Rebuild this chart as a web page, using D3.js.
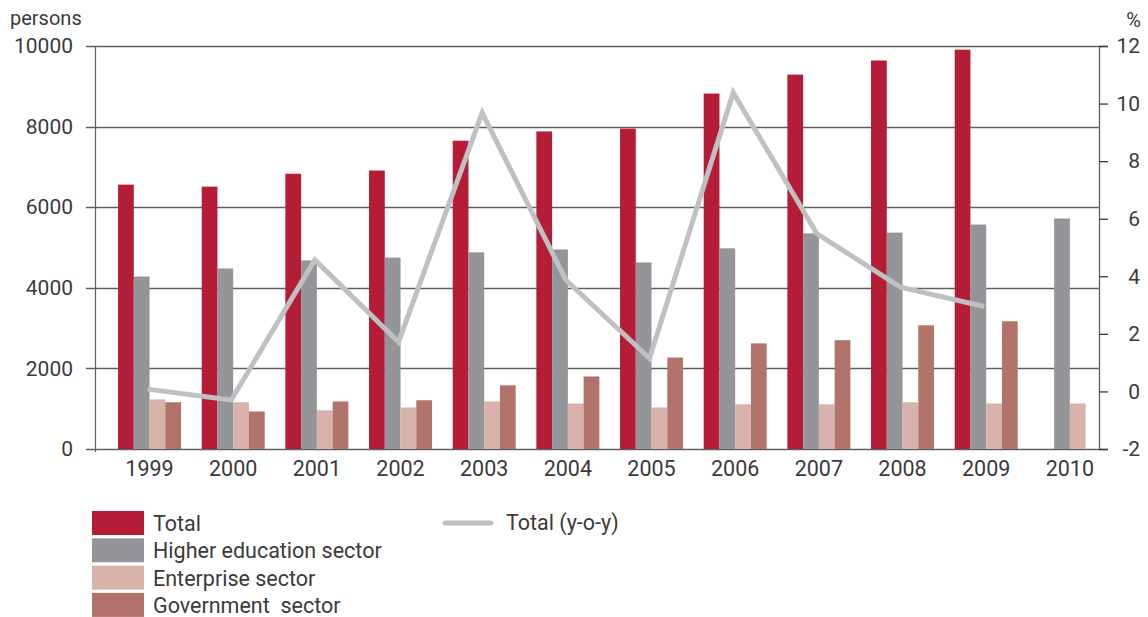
<!DOCTYPE html>
<html>
<head>
<meta charset="utf-8">
<script src="https://cdn.jsdelivr.net/npm/d3@7"></script>
<style>
  body { margin: 0; background: #fff; }
  svg text { font-family: Roboto, "Open Sans", sans-serif; fill: #3a3a3a; }
</style>
</head>
<body>
<svg id="chart"></svg>
<script>
// categories and series
var years = ["1999", "2000", "2001", "2002", "2003", "2004", "2005", "2006", "2007", "2008", "2009", "2010"];
var total = [6560, 6510, 6830, 6910, 7650, 7880, 7950, 8820, 9290, 9640, 9910, null];
var higherEd = [4280, 4480, 4680, 4750, 4880, 4950, 4630, 4980, 5350, 5370, 5570, 5720];
var enterprise = [1230, 1160, 960, 1030, 1180, 1130, 1030, 1110, 1110, 1160, 1130, 1130];
var government = [1160, 930, 1180, 1210, 1580, 1800, 2270, 2620, 2700, 3070, 3170, null];
var totalYoy = [0.08, -0.3, 4.57, 1.72, 9.68, 3.87, 1.15, 10.38, 5.48, 3.62, 2.95, null];

var leftTicks = [0, 2000, 4000, 6000, 8000, 10000];
var rightTicks = [-2, 0, 2, 4, 6, 8, 10, 12];

var seriesNames = ["Total", "Higher education sector", "Enterprise sector", "Government  sector"];
var seriesColors = ["#b51c35", "#939598", "#d8b2aa", "#b2736a"];
var lineName = "Total (y-o-y)";
var lineColor = "#bfc0c2";

var width = 1148, height = 617;
var plotLeft = 95, plotRight = 1099, plotTop = 46, plotBottom = 449;

var svg = d3.select("#chart").attr("width", width).attr("height", height);

//scales
var yLeft = d3.scaleLinear().domain([0, 10000]).range([plotBottom, plotTop]);
var yRight = d3.scaleLinear().domain([-2, 12]).range([plotBottom, plotTop]);
// the clusters sit a little right of the band centres in the original
var x = d3.scaleBand().domain(years).range([plotLeft + 12.7, plotRight + 12.7]);
var groupWidth = 63;
var x1 = d3.scaleBand().domain(d3.range(4)).range([0, groupWidth]);

function center(y) { return x(y) + x.bandwidth() / 2; }
function plain(d) { return String(d); }//no thousands comma, plain hyphen minus

//gridlines
svg.append("g")
    .selectAll("line")
    .data(leftTicks)
    .enter()
    .append("line")
    .attr("x1", plotLeft - 9)
    .attr("x2", plotRight)
    .attr("y1", function (d) { return Math.round(yLeft(d)) + 0.5; })
    .attr("y2", function (d) { return Math.round(yLeft(d)) + 0.5; })
    .attr("stroke", "#5e5f61")
    .attr("stroke-width", 1.3);

//bars
var seriesData = [total, higherEd, enterprise, government];
seriesData.forEach(function (vals, s) {
    svg.append("g")
        .selectAll("rect")
        .data(years.map(function (y, i) { return { year: y, v: vals[i] }; }).filter(function (d) { return d.v != null; }))
        .enter()
        .append("rect")
        .attr("x", function (d) { return center(d.year) - groupWidth / 2 + x1(s); })
        .attr("width", x1.bandwidth())
        .attr("y", function (d) { return yLeft(d.v); })
        .attr("height", function (d) { return yLeft(0) - yLeft(d.v); })
        .attr("fill", seriesColors[s]);
});

//line on the right axis
var lineData = years.map(function (y, i) { return { year: y, v: totalYoy[i] }; }).filter(function (d) { return d.v != null; });
var lineGen = d3.line()
    .x(function (d) { return center(d.year) - 2; })
    .y(function (d) { return yRight(d.v); });
svg.append("path")
    .datum(lineData)
    .attr("d", lineGen)
    .attr("fill", "none")
    .attr("stroke", lineColor)
    .attr("stroke-width", 5);

//axes
var leftAxis = d3.axisLeft(yLeft).tickValues(leftTicks).tickFormat(plain).tickSize(0).tickPadding(22);
var gl = svg.append("g").attr("transform", "translate(" + plotLeft + ",0)").call(leftAxis);
gl.select(".domain").remove();
gl.selectAll("text").style("font-size", "21px").style("fill", "#3a3a3a");
svg.append("line")
    .attr("x1", plotLeft + 0.5).attr("x2", plotLeft + 0.5)
    .attr("y1", plotTop).attr("y2", plotBottom + 3)
    .attr("stroke", "#5e5f61").attr("stroke-width", 1.2);

var rightAxis = d3.axisRight(yRight).tickValues(rightTicks).tickFormat(plain).tickSize(9).tickPadding(4);
var gr = svg.append("g").attr("transform", "translate(" + plotRight + ",0)").call(rightAxis);
gr.select(".domain").attr("stroke", "#5e5f61").attr("stroke-width", 1.3);
gr.selectAll(".tick line").attr("stroke", "#3a3a3a").attr("stroke-width", 1.3);
gr.selectAll("text")
    .attr("x", 41)
    .style("text-anchor", "end")
    .style("font-size", "21px")
    .style("fill", "#3a3a3a");

var bottomAxis = d3.axisBottom(x).tickSize(0).tickPadding(12);
var gb = svg.append("g").attr("transform", "translate(0," + plotBottom + ")").call(bottomAxis);
gb.select(".domain").remove();
gb.selectAll("text").style("font-size", "21.5px").style("fill", "#3a3a3a");

//axis titles
svg.append("text").attr("x", 10).attr("y", 25).style("font-size", "20px").text("persons");
svg.append("text").attr("x", 1141).attr("y", 27).style("font-size", "20px").style("text-anchor", "end").text("%");

//legend
var legend = svg.append("g");
legend.selectAll("rect")
    .data(seriesNames)
    .enter()
    .append("rect")
    .attr("x", 92)
    .attr("y", function (d, i) { return 511 + i * 27.3; })
    .attr("width", 52)
    .attr("height", 24)
    .attr("fill", function (d, i) { return seriesColors[i]; });
legend.selectAll("text")
    .data(seriesNames)
    .enter()
    .append("text")
    .attr("x", 153)
    .attr("y", function (d, i) { return 531 + i * 27.3; })
    .style("font-size", "21.5px")
    .style("white-space", "pre")
    .attr("xml:space", "preserve")
    .text(function (d) { return d; });
legend.append("line")
    .attr("x1", 445).attr("x2", 491)
    .attr("y1", 523).attr("y2", 523)
    .attr("stroke", lineColor).attr("stroke-width", 5).attr("stroke-linecap", "round");
legend.append("text").attr("x", 506).attr("y", 530).style("font-size", "21.5px").text(lineName);
</script>
</body>
</html>
